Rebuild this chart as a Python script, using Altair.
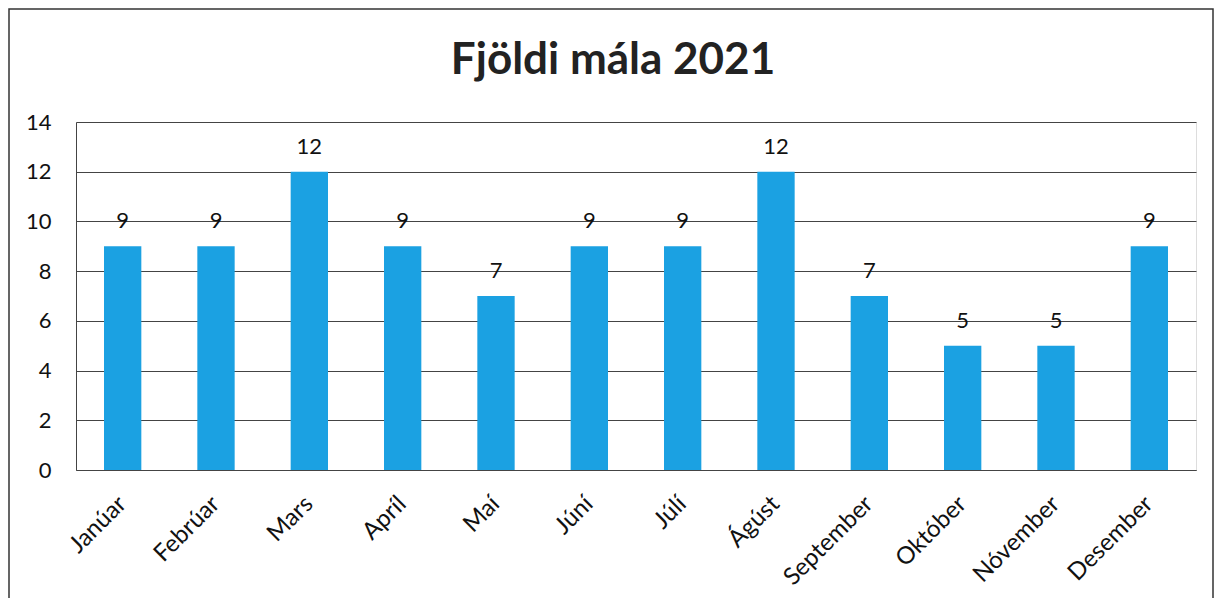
import altair as alt
import pandas as pd

months = ["Janúar", "Febrúar", "Mars", "Apríl", "Maí", "Júní", "Júlí",
          "Ágúst", "September", "Október", "Nóvember", "Desember"]
counts = [9, 9, 12, 9, 7, 9, 9, 12, 7, 5, 5, 9]
y_ticks = [0, 2, 4, 6, 8, 10, 12, 14]
title_text = "Fjöldi mála 2021"

df = pd.DataFrame({"month": months, "count": counts})

FONT = "Lato"
W, H = 1120, 348
PL, PT, PR, PB = 68, 114, 18, 128

base = alt.Chart(df)

x = alt.X("month:N", sort=months, title=None,
          scale=alt.Scale(paddingInner=0.6, paddingOuter=0.3),
          axis=alt.Axis(labelAngle=315, labelAlign="right", labelBaseline="middle",
                        labelFontSize=24, labelFont=FONT, labelColor="#111",
                        ticks=False, domainColor="#444", labelPadding=30, grid=False))
y = alt.Y("count:Q", title=None,
          scale=alt.Scale(domain=[0, 14], nice=False),
          axis=alt.Axis(values=y_ticks, labelFontSize=22, labelFont=FONT, labelColor="#111",
                        ticks=False, domainColor="#444", gridColor="#444", gridOpacity=1,
                        labelPadding=25))

bars = base.mark_bar(color="#1BA1E2").encode(x=x, y=y)
labels = base.mark_text(fontSize=22, font=FONT, color="#111", baseline="middle", dy=-25).encode(
    x=alt.X("month:N", sort=months), y="count:Q", text="count:Q")

one = pd.DataFrame({"t": [title_text]})
border = alt.Chart(one).mark_rect(
    fill=None, stroke="#333", strokeWidth=1.5, clip=False).encode(
    x=alt.value(-PL + 1), x2=alt.value(W + PR - 1),
    y=alt.value(-PT + 1), y2=alt.value(H + PB + 10))

title = alt.Chart(one).mark_text(
    font=FONT, fontSize=44, fontWeight="bold", color="#222",
    align="center", baseline="alphabetic").encode(
    x=alt.value(613 - 8 - PL), y=alt.value(74 - 8 - PT), text="t:N")

chart = alt.layer(bars, labels, border, title).properties(
    width=W, height=H,
    autosize=alt.AutoSizeParams(type="none"),
    padding={"left": PL, "top": PT, "right": PR, "bottom": PB},
).configure_view(stroke=None).configure(background="white")

chart.save("out.html", embed_options={"renderer": "svg", "actions": False})
